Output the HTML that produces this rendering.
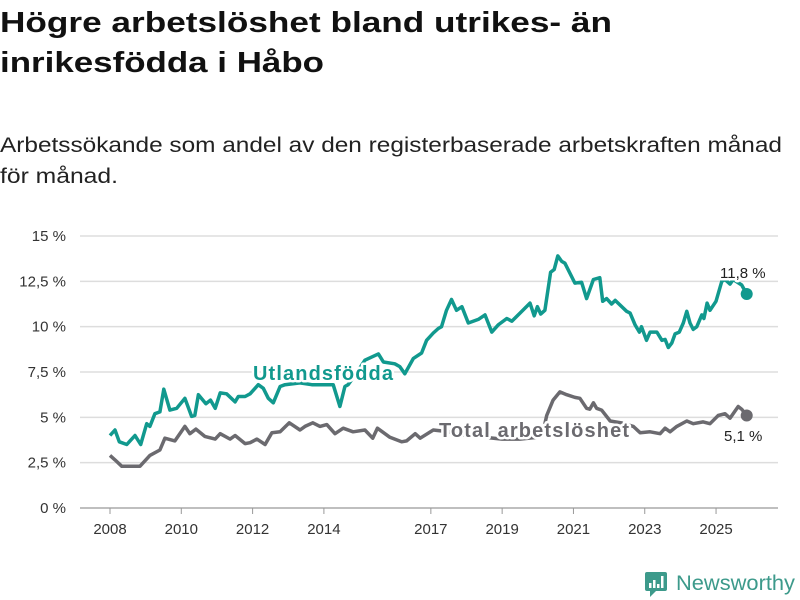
<!DOCTYPE html>
<html><head><meta charset="utf-8"><style>
body{margin:0;background:#fff;}
svg{display:block;font-family:"Liberation Sans",sans-serif;}
</style></head><body>
<svg id="chart" width="800" height="600">
<text x="0" y="32" font-size="29" font-weight="bold" fill="#111" textLength="612" lengthAdjust="spacingAndGlyphs">Högre arbetslöshet bland utrikes- än</text>
<text x="0" y="72" font-size="29" font-weight="bold" fill="#111" textLength="324" lengthAdjust="spacingAndGlyphs">inrikesfödda i Håbo</text>
<text x="0" y="152" font-size="21" fill="#222" textLength="782" lengthAdjust="spacingAndGlyphs">Arbetssökande som andel av den registerbaserade arbetskraften månad</text>
<text x="0" y="183" font-size="21" fill="#222" textLength="118" lengthAdjust="spacingAndGlyphs">för månad.</text>
<g id="grid"></g><g id="xaxis"></g><g id="lines"></g><g id="labels"></g>
<g>
<rect x="645" y="572" width="22" height="19" rx="2" fill="#3d9a8b"/>
<path d="M650 591 L650 597 L656 591 Z" fill="#3d9a8b"/>
<rect x="649" y="583" width="2.5" height="5" fill="#fff"/><rect x="653" y="580" width="2.5" height="8" fill="#fff"/><rect x="657" y="584" width="2.5" height="4" fill="#fff"/><rect x="661" y="576" width="2.5" height="12" fill="#fff"/>
<text x="676" y="590" font-size="21" fill="#3d9a8b" textLength="119" lengthAdjust="spacingAndGlyphs">Newsworthy</text>
</g>
</svg>
<script>
const yTicks=[0,2.5,5,7.5,10,12.5,15];
const yTickLabels=["0 %","2,5 %","5 %","7,5 %","10 %","12,5 %","15 %"];
const xTicks=[2008,2010,2012,2014,2017,2019,2021,2023,2025];
const foreignDates=[2008.0,2008.14,2008.26,2008.47,2008.70,2008.86,2009.03,2009.12,2009.26,2009.40,2009.51,2009.68,2009.87,2010.10,2010.29,2010.38,2010.48,2010.69,2010.82,2010.95,2011.09,2011.27,2011.51,2011.60,2011.79,2011.93,2012.16,2012.30,2012.44,2012.58,2012.77,2012.91,2013.33,2013.66,2013.84,2014.26,2014.45,2014.59,2014.68,2014.90,2015.15,2015.53,2015.67,2015.99,2016.13,2016.27,2016.51,2016.74,2016.88,2017.07,2017.21,2017.30,2017.44,2017.58,2017.72,2017.87,2018.05,2018.33,2018.52,2018.71,2018.89,2019.13,2019.27,2019.50,2019.78,2019.90,2019.99,2020.08,2020.20,2020.36,2020.46,2020.56,2020.67,2020.76,2021.04,2021.23,2021.37,2021.56,2021.74,2021.82,2021.93,2022.07,2022.17,2022.49,2022.59,2022.73,2022.85,2022.91,2023.05,2023.15,2023.34,2023.48,2023.57,2023.66,2023.76,2023.85,2023.97,2024.08,2024.18,2024.27,2024.36,2024.46,2024.60,2024.66,2024.75,2024.83,2025.00,2025.16,2025.25,2025.39,2025.48,2025.72,2025.86];
const foreignValues=[4.0,4.3,3.65,3.5,4.0,3.5,4.65,4.5,5.2,5.3,6.55,5.4,5.5,6.05,5.05,5.1,6.25,5.75,5.95,5.5,6.35,6.3,5.85,6.15,6.15,6.3,6.8,6.6,6.05,5.8,6.7,6.8,6.9,6.8,6.8,6.8,5.6,6.7,6.8,7.4,8.15,8.5,8.05,7.95,7.8,7.4,8.25,8.55,9.25,9.65,9.9,10.0,10.9,11.5,10.9,11.1,10.2,10.4,10.65,9.7,10.1,10.45,10.3,10.75,11.3,10.6,11.1,10.7,10.9,13.0,13.15,13.9,13.6,13.5,12.4,12.45,11.55,12.6,12.7,11.4,11.55,11.25,11.45,10.85,10.75,10.1,9.7,10.0,9.25,9.7,9.7,9.25,9.3,8.85,9.1,9.6,9.7,10.2,10.85,10.2,9.85,10.0,10.65,10.45,11.3,10.9,11.4,12.5,12.6,12.35,12.6,12.3,11.8];
const totalDates=[2008.0,2008.14,2008.33,2008.84,2009.12,2009.40,2009.54,2009.82,2010.10,2010.24,2010.41,2010.66,2010.95,2011.09,2011.37,2011.51,2011.79,2011.93,2012.12,2012.35,2012.54,2012.77,2013.03,2013.33,2013.47,2013.69,2013.89,2014.08,2014.31,2014.54,2014.82,2015.15,2015.37,2015.50,2015.85,2016.18,2016.32,2016.56,2016.70,2017.07,2017.5,2018.0,2018.5,2019.0,2019.5,2020.0,2020.15,2020.25,2020.43,2020.62,2020.81,2021.04,2021.18,2021.37,2021.46,2021.56,2021.65,2021.79,2022.03,2022.34,2022.68,2022.87,2023.15,2023.43,2023.57,2023.71,2023.90,2024.18,2024.36,2024.64,2024.83,2025.06,2025.25,2025.39,2025.62,2025.72,2025.86];
const totalValues=[2.9,2.65,2.3,2.3,2.9,3.2,3.85,3.7,4.5,4.1,4.35,3.95,3.8,4.1,3.8,4.0,3.55,3.6,3.8,3.5,4.15,4.2,4.7,4.3,4.5,4.7,4.5,4.6,4.1,4.4,4.2,4.3,3.85,4.4,3.9,3.65,3.7,4.1,3.85,4.3,4.2,4.0,3.9,3.8,3.8,3.9,4.2,5.1,5.95,6.4,6.25,6.1,6.05,5.5,5.45,5.8,5.5,5.4,4.8,4.7,4.5,4.15,4.2,4.1,4.4,4.2,4.5,4.8,4.65,4.75,4.65,5.1,5.2,4.95,5.6,5.45,5.1];
const foreignLast="11,8 %", totalLast="5,1 %";

const NS="http://www.w3.org/2000/svg";
const X0=80,X1=778,Y0=508,Y1=236;
const xs=d=>110+(d-2008)*35.65;
const ys=v=>Y0-(v/15)*(Y0-Y1);
function mk(tag,attrs,parent){const e=document.createElementNS(NS,tag);for(const k in attrs)e.setAttribute(k,attrs[k]);parent.appendChild(e);return e;}
const grid=document.getElementById('grid');
yTicks.forEach((t,i)=>{
  const l=mk('line',{x1:X0,x2:X1,y1:ys(t),y2:ys(t),stroke:t===0?'#999':'#ddd','stroke-width':t===0?1.2:1.5},grid);
  
  
  const tx=mk('text',{x:66,y:ys(t)+5,'text-anchor':'end','font-size':15,fill:'#333'},grid);
  tx.textContent=yTickLabels[i];
  
  
});
const xa=document.getElementById('xaxis');
xTicks.forEach(t=>{
  const l=mk('line',{x1:xs(t),x2:xs(t),y1:Y0,y2:Y0+6,stroke:'#999'},xa);
  
  
  const tx=mk('text',{x:xs(t),y:534,'text-anchor':'middle','font-size':15,fill:'#333'},xa);
  tx.textContent=t;
  
  
});
const lines=document.getElementById('lines');
function series(d,v,color,name){
  const p=mk('path',{d:d.map((x,i)=>(i?'L':'M')+xs(x).toFixed(1)+' '+ys(v[i]).toFixed(1)).join(' '),fill:'none',stroke:color,'stroke-width':3.5,'stroke-linejoin':'round'},lines);
  
  
  const c=mk('circle',{cx:xs(d[d.length-1]),cy:ys(v[v.length-1]),r:6,fill:color},lines);
  
  
}
series(totalDates,totalValues,'#6b6a6f','total');
series(foreignDates,foreignValues,'#11998e','foreign');
const lab=document.getElementById('labels');
function label(x,y,txt,color,size,bold,name){
  const t=mk('text',{x:x,y:y,'font-size':size,'font-weight':bold?'bold':'normal',fill:color,stroke:'#fff','stroke-width':5,'paint-order':'stroke','stroke-linejoin':'round'},lab);
  t.textContent=txt;
  
  
  return t;
}
label(253,380,'Utlandsfödda','#11998e',20,true,'foreign-series-label').setAttribute('textLength','140');
label(439,437,'Total arbetslöshet','#6b6a6f',20,true,'total-series-label').setAttribute('textLength','190');
label(720,278,foreignLast,'#222',15,false,'foreign-last-value');
label(724,441,totalLast,'#222',15,false,'total-last-value');
</script>
</body></html>
